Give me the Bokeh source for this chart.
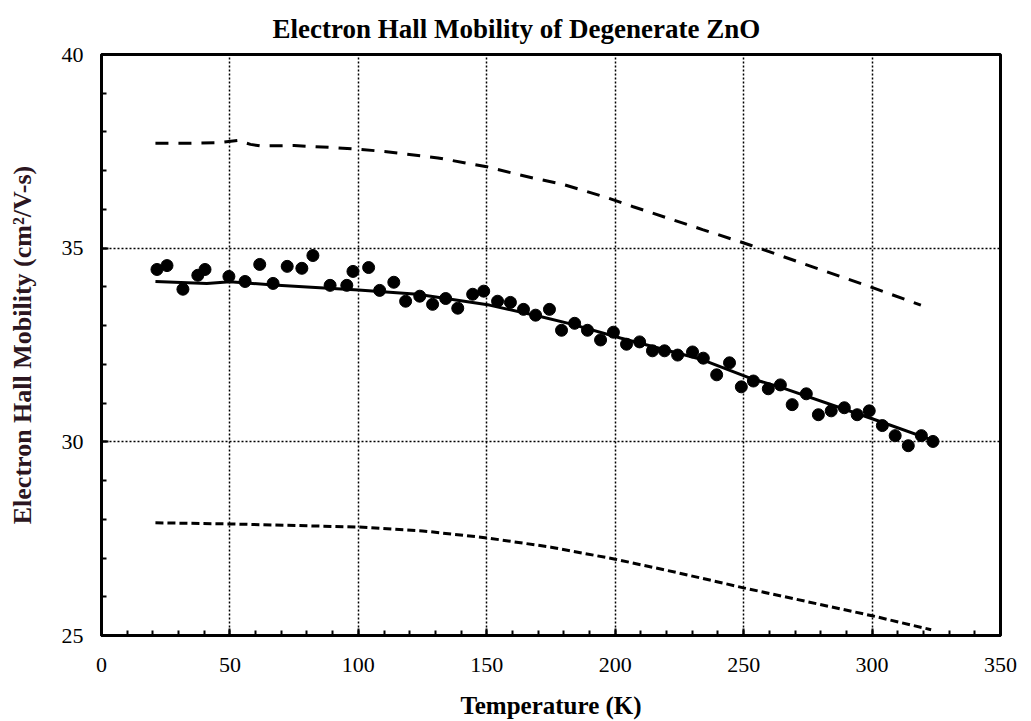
from bokeh.plotting import figure
from bokeh.models import SingleIntervalTicker, Title, Range1d
from bokeh.embed import file_html
from bokeh.resources import INLINE

# Measured Hall mobility data
temp_data = [21.6, 25.5, 31.7, 37.5, 40.3, 49.6, 55.9, 61.6, 66.8, 72.3, 78.0, 82.3,
             89.0, 95.5, 97.9, 104.0, 108.3, 113.8, 118.4, 123.9, 128.9, 134.0, 138.7,
             144.5, 148.8, 154.2, 159.2, 164.3, 169.0, 174.4, 179.1, 184.2, 189.2, 194.3,
             199.3, 204.4, 209.5, 214.5, 219.2, 224.3, 230.1, 234.3, 239.5, 244.5, 249.1,
             253.8, 259.6, 264.3, 268.9, 274.4, 279.1, 284.1, 289.2, 294.2, 298.9, 304.0,
             309.0, 314.1, 319.2, 323.7]
mob_data = [34.45, 34.55, 33.94, 34.30, 34.45, 34.27, 34.14, 34.58, 34.09, 34.53, 34.48, 34.81,
            34.04, 34.04, 34.40, 34.50, 33.91, 34.12, 33.63, 33.76, 33.55, 33.70, 33.45,
            33.81, 33.89, 33.63, 33.60, 33.42, 33.27, 33.42, 32.88, 33.06, 32.88, 32.63,
            32.83, 32.52, 32.58, 32.35, 32.35, 32.24, 32.32, 32.16, 31.73, 32.04, 31.42,
            31.57, 31.37, 31.47, 30.96, 31.24, 30.70, 30.80, 30.88, 30.70, 30.80, 30.42,
            30.16, 29.90, 30.16, 30.01]

# Fit (solid)
temp_fit = [21, 41, 50, 67, 80, 100, 123, 151, 170, 183, 202, 233, 253, 264, 302, 324]
mob_fit = [34.14, 34.09, 34.13, 34.05, 34.00, 33.92, 33.81, 33.53, 33.25, 33.04, 32.68,
           32.14, 31.63, 31.42, 30.55, 30.03]

# Upper bound (dashed)
temp_upper = [21, 35, 45, 53, 58, 62, 75, 92, 101, 111, 131, 150, 168, 179, 197, 207,
              234, 253, 272, 299, 319]
mob_upper = [37.71, 37.71, 37.72, 37.78, 37.68, 37.64, 37.65, 37.59, 37.55, 37.49, 37.33,
             37.10, 36.81, 36.66, 36.30, 36.07, 35.48, 35.07, 34.63, 34.01, 33.53]

# Lower bound (dashed)
temp_lower = [21, 50, 100, 125, 150, 175, 200, 225, 250, 275, 300, 323]
mob_lower = [27.91, 27.88, 27.80, 27.70, 27.52, 27.28, 26.97, 26.61, 26.23, 25.87, 25.51, 25.15]

title_text = "Electron Hall Mobility of Degenerate ZnO"
x_label = "Temperature (K)"
y_label = "Electron Hall Mobility (cm\u00b2/V-s)"

SERIF = "Liberation Serif"

p = figure(width=1023, height=721, output_backend="svg", toolbar_location=None,
           x_range=Range1d(0, 350), y_range=Range1d(25, 40),
           min_border_left=101, min_border_right=23, min_border_top=54, min_border_bottom=83)

p.outline_line_color = "black"
p.outline_line_width = 3

for ax in (p.xaxis[0], p.yaxis[0]):
    ax.axis_line_color = "black"
    ax.axis_line_width = 3
    ax.major_tick_in = 7
    ax.major_tick_out = 0
    ax.minor_tick_in = 5
    ax.minor_tick_out = 0
    ax.major_tick_line_color = "black"
    ax.major_tick_line_width = 2
    ax.minor_tick_line_color = "black"
    ax.minor_tick_line_width = 2
    ax.major_label_text_font = SERIF
    ax.major_label_text_font_size = "22px"
    ax.major_label_text_color = "black"
    ax.axis_label_text_font = SERIF
    ax.axis_label_text_font_style = "bold"

p.xaxis[0].ticker = SingleIntervalTicker(interval=50, num_minor_ticks=5)
p.yaxis[0].ticker = SingleIntervalTicker(interval=5, num_minor_ticks=5)
p.xaxis[0].axis_label = x_label
p.yaxis[0].axis_label = y_label
p.xaxis[0].axis_label_text_font_size = "25px"
p.yaxis[0].axis_label_text_font_size = "26px"
p.xaxis[0].axis_label_text_color = "black"
p.yaxis[0].axis_label_text_color = "#2b1520"
p.xaxis[0].major_label_standoff = 22
p.yaxis[0].major_label_standoff = 18
p.xaxis[0].axis_label_standoff = 17
p.yaxis[0].axis_label_standoff = 22

p.xgrid.grid_line_color = "black"
p.xgrid.grid_line_dash = "2 2"
p.xgrid.grid_line_width = 1.5
p.ygrid.grid_line_color = "black"
p.ygrid.grid_line_dash = "2 2"
p.ygrid.grid_line_width = 1.5
p.xgrid.ticker = SingleIntervalTicker(interval=50)
p.ygrid.ticker = SingleIntervalTicker(interval=5)

p.line(temp_upper, mob_upper, line_color="black", line_width=3, line_dash="13 10")
p.line(temp_lower, mob_lower, line_color="black", line_width=3, line_dash="8 4")
p.line(temp_fit, mob_fit, line_color="black", line_width=3)
p.scatter(temp_data, mob_data, size=12, fill_color="black", line_color="black")

title = Title(text=title_text, text_font=SERIF, text_font_style="bold",
              text_font_size="27px", text_color="black", align="left", offset=171,
              standoff=22)
p.add_layout(title, "above")

open("out.html", "w").write(file_html(p, INLINE))
